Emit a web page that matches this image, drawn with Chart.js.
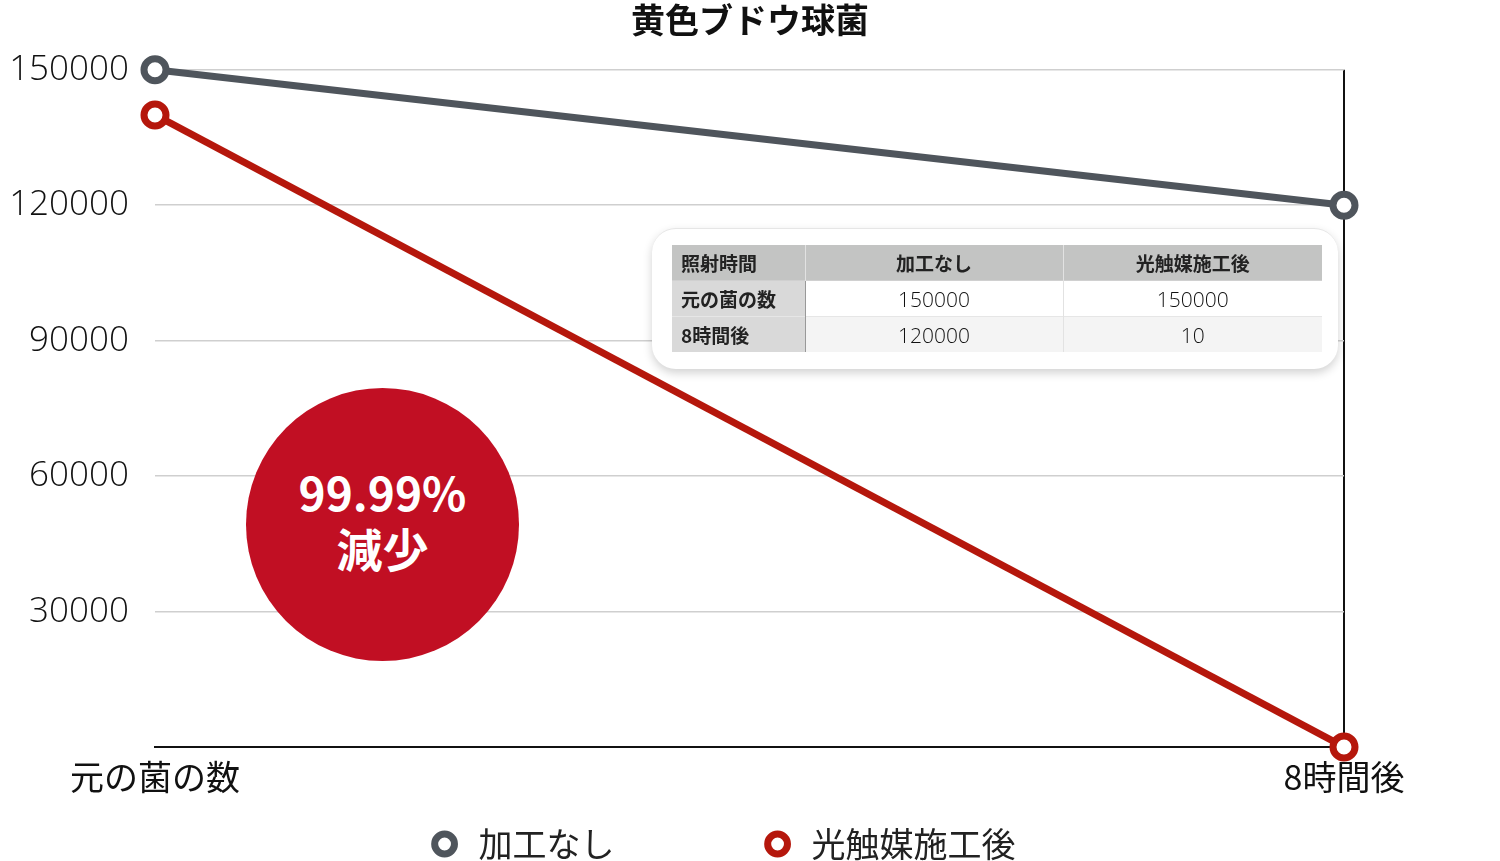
<!DOCTYPE html>
<html lang="ja">
<head>
<meta charset="utf-8">
<title>黄色ブドウ球菌</title>
<script src="https://cdn.jsdelivr.net/npm/chart.js@4.4.1/dist/chart.umd.min.js"></script>
<style>
  html, body { margin: 0; padding: 0; background: #fff; }
  #wrap { position: relative; width: 1500px; height: 861px; font-family: "Noto Sans CJK JP", sans-serif; }
  #myChart { position: absolute; left: 0; top: 0; }
  #badge {
    position: absolute; left: 246px; top: 388px; width: 273px; height: 273px;
    border-radius: 50%; background: #c10f23; color: #fff;
    display: flex; flex-direction: column; align-items: center; justify-content: center;
    font-weight: 700; font-size: 46px; line-height: 56px; padding-bottom: 12px; box-sizing: border-box;
  }
  #tablebox {
    position: absolute; left: 652px; top: 228px; width: 686px; height: 140px;
    background: #fff; border-radius: 24px; border-top: 1px solid #e6e6e6;
    box-shadow: 0 4px 10px rgba(0,0,0,0.18);
  }
  #tablebox table {
    position: absolute; left: 20px; top: 16px; width: 650px; border-collapse: collapse;
    table-layout: fixed; font-size: 19px; color: #222;
  }
  #tablebox td { height: 35px; padding: 0; text-align: center; border-left: 1px solid #e2e2e2; }
  #tablebox td.num { font-family: "Open Sans", sans-serif; font-weight: 300; font-size: 21px; color: #111; }
  #tablebox tr.head td { background: #c3c4c3; font-weight: 700; }
  #tablebox td.rowname { text-align: left; padding-left: 9px; font-weight: 700; background: #d9d9d9; border-left: none; }
  #tablebox tr.r1 td { background: #fff; border-top: 1px solid #d0d0d0; }
  #tablebox tr.r2 td { background: #f4f4f4; border-top: 1px solid #e6e6e6; }
  #tablebox tr td.rowname { background: #d9d9d9; border-right: 1px solid #999; }
  #tablebox tr.head td.rowname { background: #c3c4c3; border-right: none; }
</style>
</head>
<body>
<div id="wrap">
  <canvas id="myChart" width="1500" height="861"></canvas>
  <div id="badge"><span id="badgeRate"></span><span id="badgeText"></span></div>
  <div id="tablebox"><table id="dataTable"><colgroup><col style="width:133px"><col style="width:258px"><col style="width:259px"></colgroup><tbody id="dataBody"></tbody></table></div>
</div>
<script>
var title = '黄色ブドウ球菌';
var label = ['元の菌の数', '8時間後'];
var series_names = ['加工なし', '光触媒施工後'];
var plain_num = [150000, 120000];
var coated_num = [140000, 10];
var y_ticks = [0, 30000, 60000, 90000, 120000, 150000];

// table shown in the box
var table_head = ['照射時間', '加工なし', '光触媒施工後'];
var table_rows = ['元の菌の数', '8時間後'];
var table_plain = [150000, 120000];
var table_coated = [150000, 10];
var badge_rate = '99.99%';
var badge_text = '減少';

var gray = '#4f555c';
var red = '#b5170c';
// extra room after each legend entry
var legend_pad = ['\u3000\u3000\u3000\u3000', '\u3000   '];

window.onload = function drawGraph(){
    document.getElementById('badgeRate').textContent = badge_rate;
    document.getElementById('badgeText').textContent = badge_text;

    var html = '<tr class="head">';
    for (var i = 0; i < table_head.length; i++) {
        html += '<td' + (i == 0 ? ' class="rowname"' : '') + '>' + table_head[i] + '</td>';
    }
    html += '</tr>';
    for (var r = 0; r < table_rows.length; r++) {
        html += '<tr class="r' + (r + 1) + '"><td class="rowname">' + table_rows[r] + '</td>'
             + '<td class="num">' + table_plain[r] + '</td><td class="num">' + table_coated[r] + '</td></tr>';
    }
    document.getElementById('dataBody').innerHTML = html;

    Chart.defaults.font.family = '"Noto Sans CJK JP", sans-serif';
    Chart.defaults.color = '#111';

    var dataset = {
        labels: label,
        datasets: [{
            label: series_names[0],
            fill: false,
            borderColor: gray,
            backgroundColor: '#fff',
            borderWidth: 7,
            pointRadius: 11,
            pointBorderWidth: 7,
            pointBackgroundColor: '#fff',
            pointBorderColor: gray,
            tension: 0,
            clip: false,
            data: plain_num
        }, {
            label: series_names[1],
            fill: false,
            borderColor: red,
            backgroundColor: '#fff',
            borderWidth: 7,
            pointRadius: 11,
            pointBorderWidth: 7,
            pointBackgroundColor: '#fff',
            pointBorderColor: red,
            tension: 0,
            clip: false,
            data: coated_num
        }]
    };

    var ctx = document.getElementById('myChart').getContext('2d');
    var myChart = new Chart(ctx, {
        type: 'line',
        data: dataset,
        options: {
            responsive: false,
            animation: false,
            layout: { padding: { left: 0, right: 0, top: 0, bottom: -10 } },
            plugins: {
                title: {
                    display: true,
                    text: title,
                    color: '#111',
                    font: { size: 34, weight: 'bold' },
                    padding: { top: 0, bottom: 29 }
                },
                legend: {
                    position: 'bottom',
                    labels: {
                        usePointStyle: true,
                        pointStyle: 'circle',
                        boxWidth: 40,
                        boxHeight: 14,
                        padding: 10,
                        color: '#222',
                        font: { size: 34 },
                        generateLabels: function(chart) {
                            var items = Chart.defaults.plugins.legend.labels.generateLabels(chart);
                            items.forEach(function(it, i) { it.text = it.text + legend_pad[i]; });
                            return items;
                        }
                    }
                },
                tooltip: { enabled: false }
            },
            scales: {
                x: {
                    offset: false,
                    afterFit: function(axis) { axis.height = 70; },
                    grid: {
                        drawTicks: false,
                        lineWidth: 2,
                        color: function(c) { return c.index == label.length - 1 ? '#111' : 'rgba(0,0,0,0)'; }
                    },
                    border: { display: true, color: '#111', width: 2 },
                    ticks: { padding: 10, color: '#111', font: { size: 34 } }
                },
                y: {
                    min: y_ticks[0],
                    max: y_ticks[y_ticks.length - 1],
                    afterBuildTicks: function(axis) {
                        axis.ticks = y_ticks.map(function(v) { return { value: v }; });
                    },
                    afterFit: function(axis) { axis.width = 155; },
                    grid: { drawTicks: false, color: '#cfcfcf', lineWidth: 1.5 },
                    border: { display: false },
                    ticks: {
                        padding: 26,
                        color: '#111',
                        font: { family: '"Open Sans", sans-serif', size: 35, weight: 300 },
                        callback: function(v) { return v == 0 ? '' : v; }
                    }
                },
                yRight: {
                    position: 'right',
                    display: true,
                    afterFit: function(axis) { axis.width = 156; },
                    grid: { display: false },
                    border: { display: false },
                    ticks: { display: false }
                }
            }
        }
    });
};
</script>
</body>
</html>
